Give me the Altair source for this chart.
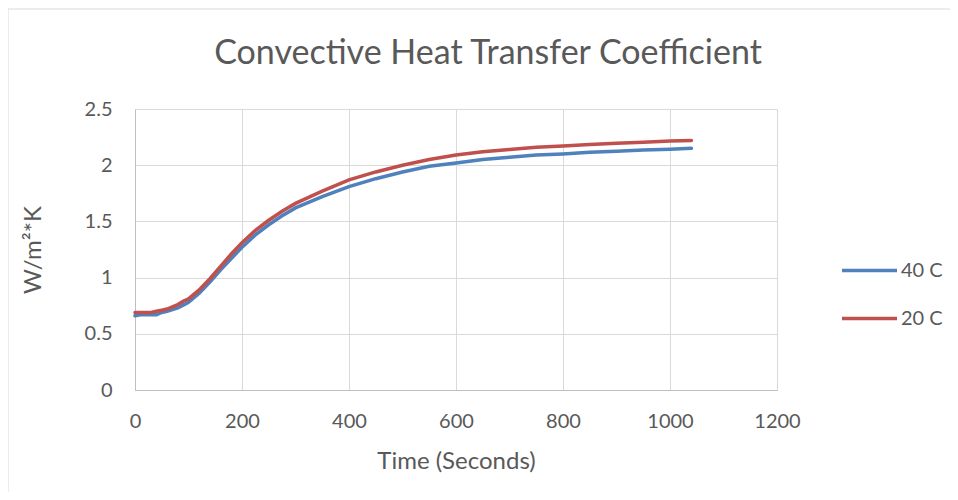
import altair as alt
import pandas as pd

time = [0, 10, 20, 30, 40, 50, 60, 70, 80, 90, 100, 120, 140, 160, 180, 200, 225, 250, 275, 300,
        350, 400, 450, 500, 550, 600, 650, 700, 750, 800, 850, 900, 950, 1000, 1040]
h40 = [0.66, 0.67, 0.67, 0.67, 0.67, 0.69, 0.70, 0.715, 0.73, 0.755, 0.78, 0.86, 0.96, 1.07, 1.17, 1.27,
       1.38, 1.47, 1.55, 1.62, 1.72, 1.81, 1.88, 1.94, 1.99, 2.02, 2.05, 2.07, 2.09, 2.10, 2.115, 2.125,
       2.135, 2.142, 2.15]
h20 = [0.69, 0.69, 0.69, 0.69, 0.70, 0.71, 0.72, 0.74, 0.76, 0.79, 0.81, 0.89, 0.99, 1.10, 1.21, 1.31,
       1.42, 1.51, 1.59, 1.66, 1.77, 1.87, 1.94, 2.00, 2.05, 2.09, 2.12, 2.14, 2.16, 2.17, 2.185, 2.195,
       2.205, 2.215, 2.22]
series = ["40 C", "20 C"]
colors = ["#4F81BD", "#C0504D"]

rows = []
for t, a, b in zip(time, h40, h20):
    rows.append({"t": t, "v": a, "s": series[0]})
    rows.append({"t": t, "v": b, "s": series[1]})
df = pd.DataFrame(rows)

FONT = "Lato"
TXT = "#595959"

lines = alt.Chart(df).mark_line(strokeWidth=3.5, strokeCap="round").encode(
    x=alt.X("t:Q", scale=alt.Scale(domain=[0, 1200], nice=False),
            axis=alt.Axis(values=[0, 200, 400, 600, 800, 1000, 1200], title="Time (Seconds)",
                          format="d", labelPadding=21, titlePadding=18, labelFlush=False)),
    y=alt.Y("v:Q", scale=alt.Scale(domain=[0, 2.5], nice=False),
            axis=alt.Axis(values=[0, 0.5, 1, 1.5, 2, 2.5], title="W/m²*K", format="~g",
                          labelPadding=23, titlePadding=39, labelFlush=False)),
    color=alt.Color("s:N", scale=alt.Scale(domain=series, range=colors),
                    legend=alt.Legend(title=None, orient="none", legendX=705, legendY=132,
                                      symbolType="stroke", symbolSize=3025, symbolStrokeWidth=3.5,
                                      labelFontSize=20, labelColor=TXT, labelFont=FONT,
                                      rowPadding=8, labelOffset=2)),
    order="t:Q",
)

border = alt.Chart(pd.DataFrame({"a": [0]})).mark_rect(fill=None, stroke="#d9d9d9", strokeWidth=1).encode(
    x=alt.value(-127), x2=alt.value(830), y=alt.value(-100), y2=alt.value(400)
)

chart = alt.layer(border, lines).properties(
    width=642, height=281,
    autosize=alt.AutoSizeParams(type="none"),
    padding={"left": 127, "top": 101, "right": 173, "bottom": 102},
    title=alt.Title("Convective Heat Transfer Coefficient", fontSize=34, font=FONT, color=TXT,
                    fontWeight="normal", anchor="middle", dx=32, offset=-62),
).configure_axis(
    labelFont=FONT, labelFontSize=20, labelColor=TXT, titleFont=FONT, titleFontSize=24,
    titleColor=TXT, titleFontWeight="normal", gridColor="#d9d9d9", domainColor="#bfbfbf",
    ticks=False,
).configure_view(stroke=None)

chart.save("out.html", embed_options={"renderer": "svg", "actions": False})
